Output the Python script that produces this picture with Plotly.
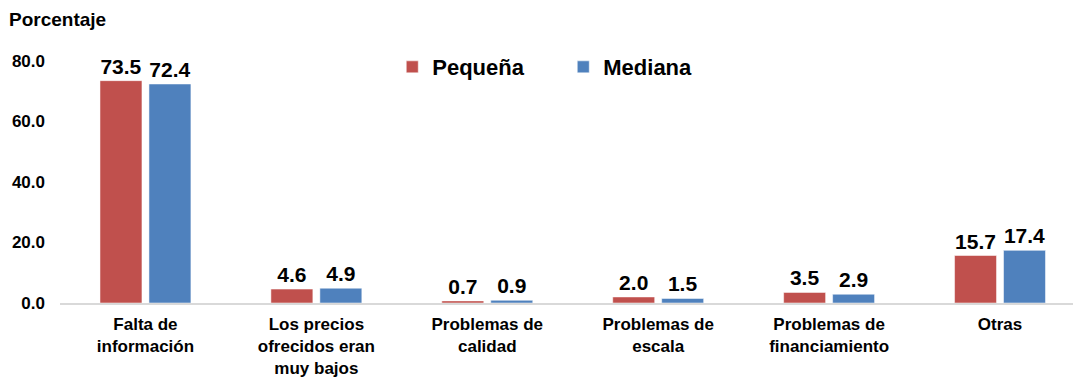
import plotly.graph_objects as go

categories = ["Falta de<br>información", "Los precios<br>ofrecidos eran<br>muy bajos",
              "Problemas de<br>calidad", "Problemas de<br>escala",
              "Problemas de<br>financiamiento", "Otras"]
pequena = [73.5, 4.6, 0.7, 2.0, 3.5, 15.7]
mediana = [72.4, 4.9, 0.9, 1.5, 2.9, 17.4]
yticks = [0, 20, 40, 60, 80]
ytick_labels = ["0.0", "20.0", "40.0", "60.0", "80.0"]

RED = "#C0504D"
BLUE = "#4F81BD"
FONT = "Liberation Sans, Arial, sans-serif"

fig = go.Figure()
for name, vals, col in [("Pequeña", pequena, RED), ("Mediana", mediana, BLUE)]:
    fig.add_trace(go.Bar(
        name=name, x=list(range(len(categories))), y=vals,
        marker=dict(color=col, line=dict(color="rgba(255,255,255,0.5)", width=1)),
        text=[f"{v:.1f}" for v in vals], textposition="outside",
        constraintext="none",
        textfont=dict(family=FONT, size=21, color="black", weight="bold"),
        cliponaxis=False,
    ))

fig.update_layout(
    width=1073, height=380,
    margin=dict(l=60, r=0, t=61, b=77),
    paper_bgcolor="white", plot_bgcolor="white",
    barmode="group", bargap=0.427, bargroupgap=0.143,
    font=dict(family=FONT, color="black"),
    showlegend=True,
    legend=dict(orientation="h", x=0.328, y=0.975, xanchor="left", yanchor="middle",
                font=dict(family=FONT, size=22, color="black", weight="bold"),
                itemwidth=30, entrywidth=126, itemclick=False,
                bgcolor="rgba(0,0,0,0)"),
    xaxis=dict(range=[-0.5, 5.427], tickmode="array", automargin=False,
               tickvals=list(range(len(categories))), ticktext=categories,
               showline=True, linecolor="#D9D9D9", linewidth=1.5,
               ticks="", showgrid=False, zeroline=False, ticklabelstandoff=5,
               tickfont=dict(family=FONT, size=17, color="black", weight="bold")),
    yaxis=dict(range=[0, 80], tickmode="array", tickvals=yticks, ticktext=ytick_labels,
               automargin=False,
               showgrid=False, zeroline=False, showline=False, ticks="",
               ticklabelstandoff=14,
               tickfont=dict(family=FONT, size=17, color="black", weight="bold")),
    annotations=[dict(text="Porcentaje", xref="paper", yref="paper", x=-0.052, y=1.17,
                      xanchor="left", yanchor="middle", showarrow=False,
                      font=dict(family=FONT, size=19, color="black", weight="bold"))],
)

fig.write_html("out.html", config={"displayModeBar": False},
               post_script="document.body.style.margin='0';")
